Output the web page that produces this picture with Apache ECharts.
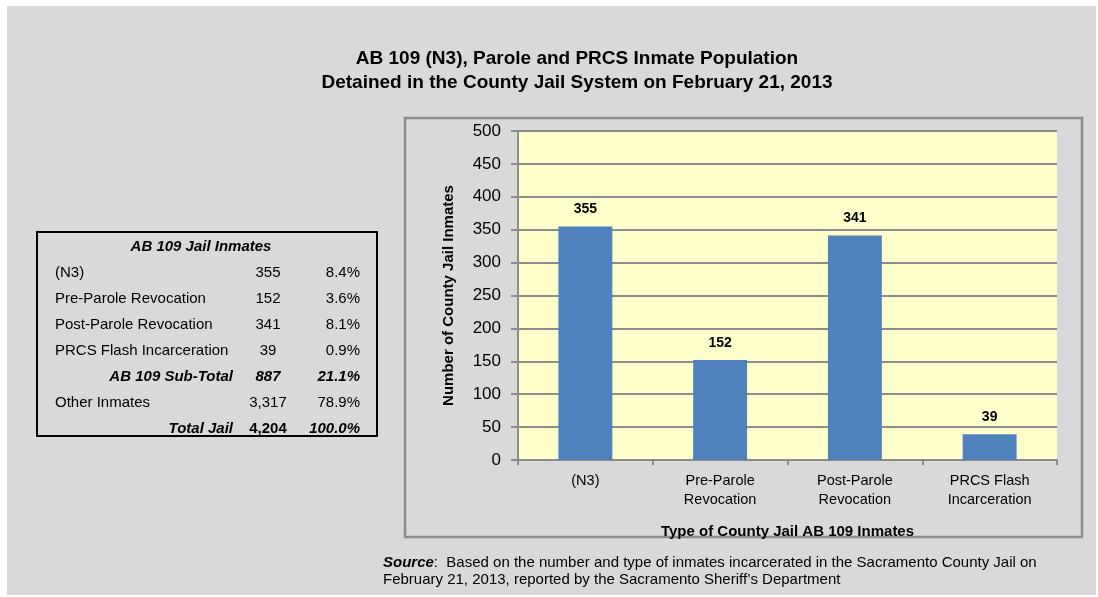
<!DOCTYPE html>
<html>
<head>
<meta charset="utf-8">
<script src="https://cdn.jsdelivr.net/npm/echarts@6/dist/echarts.min.js"></script>
<style>
  html, body { margin: 0; padding: 0; background: #ffffff; }
  #main { width: 1098px; height: 597px; }
</style>
</head>
<body>
<div id="main"></div>
<script>
// chart data
var categories = ['(N3)', 'Pre-Parole\nRevocation', 'Post-Parole\nRevocation', 'PRCS Flash\nIncarceration'];
var inmates = [355, 152, 341, 39];

// side table
var tableLabels = ['(N3)', 'Pre-Parole Revocation', 'Post-Parole Revocation', 'PRCS Flash Incarceration', 'AB 109 Sub-Total', 'Other Inmates', 'Total Jail'];
var tableCounts = ['355', '152', '341', '39', '887', '3,317', '4,204'];
var tablePercents = ['8.4%', '3.6%', '8.1%', '0.9%', '21.1%', '78.9%', '100.0%'];
var tableBold = [false, false, false, false, true, false, true];

var chart = echarts.init(document.getElementById('main'));

var font = 'Liberation Sans, Arial, sans-serif';
var graphics = [
  // grey page background
  { type: 'rect', z: -10, shape: { x: 7, y: 6, width: 1089, height: 589 }, style: { fill: '#d9d9d9' } },
  // chart frame
  { type: 'rect', z: -5, shape: { x: 405, y: 118, width: 677, height: 419 }, style: { fill: 'none', stroke: '#8c8c8c', lineWidth: 2.5 } },
  // table frame
  { type: 'rect', shape: { x: 37, y: 232, width: 340, height: 204 }, style: { fill: 'none', stroke: '#000', lineWidth: 2 } },
  { type: 'text', x: 201, y: 247, style: { text: 'AB 109 Jail Inmates', font: 'italic bold 15px ' + font, fill: '#000', align: 'center', verticalAlign: 'middle' } },
  // source note
  { type: 'text', x: 383, y: 563, style: { rich: { b: { font: 'italic bold 15px ' + font, fill: '#000' }, n: { font: '15px ' + font, fill: '#000' } }, text: '{b|Source}{n|:  Based on the number and type of inmates incarcerated in the Sacramento County Jail on}', verticalAlign: 'middle' } },
  { type: 'text', x: 383, y: 580, style: { text: 'February 21, 2013, reported by the Sacramento Sheriff\u2019s Department', font: '15px ' + font, fill: '#000', verticalAlign: 'middle' } }
];

tableLabels.forEach(function (lab, i) {
  var y = 273 + i * 26;
  var b = tableBold[i];
  var f = (b ? 'italic bold ' : '') + '15px ' + font;
  graphics.push({ type: 'text', x: b ? 233 : 55, y: y, style: { text: lab, font: f, fill: '#000', align: b ? 'right' : 'left', verticalAlign: 'middle' } });
  graphics.push({ type: 'text', x: 268, y: y, style: { text: tableCounts[i], font: (b ? 'bold ' : '') + (i === 4 ? 'italic ' : '') + '15px ' + font, fill: '#000', align: 'center', verticalAlign: 'middle' } });
  graphics.push({ type: 'text', x: 360, y: y, style: { text: tablePercents[i], font: f, fill: '#000', align: 'right', verticalAlign: 'middle' } });
});

var option = {
  backgroundColor: '#ffffff',
  animation: false,
  title: {
    text: 'AB 109 (N3), Parole and PRCS Inmate Population\nDetained in the County Jail System on February 21, 2013',
    left: 572,
    top: 42,
    textAlign: 'center',
    textStyle: { fontFamily: font, fontSize: 19, fontWeight: 'bold', color: '#000', lineHeight: 24 }
  },
  graphic: graphics,
  grid: { left: 518, right: 41, top: 131, bottom: 137, show: true, backgroundColor: '#ffffcc', borderWidth: 0 },
  xAxis: {
    type: 'category',
    data: categories,
    name: 'Type of County Jail AB 109 Inmates',
    nameLocation: 'middle',
    nameGap: 64,
    nameTextStyle: { fontFamily: font, fontSize: 15, fontWeight: 'bold', color: '#000' },
    axisLine: { lineStyle: { color: '#8c8c8c', width: 2 } },
    axisTick: { show: true, length: 5, lineStyle: { color: '#8c8c8c', width: 2 } },
    axisLabel: { fontFamily: font, fontSize: 14.5, color: '#000', lineHeight: 19, margin: 11 }
  },
  yAxis: {
    type: 'value',
    min: 0,
    max: 500,
    interval: 50,
    name: 'Number of County Jail Inmates',
    nameLocation: 'middle',
    nameGap: 62,
    nameTextStyle: { fontFamily: font, fontSize: 15, fontWeight: 'bold', color: '#000' },
    axisLine: { show: true, lineStyle: { color: '#8c8c8c', width: 2 } },
    axisTick: { show: true, length: 7, lineStyle: { color: '#8c8c8c', width: 2 } },
    axisLabel: { fontFamily: font, fontSize: 17, color: '#000', margin: 17 },
    splitLine: { lineStyle: { color: '#8c8c8c', width: 2 } }
  },
  series: [{
    type: 'bar',
    data: inmates,
    barWidth: '40%',
    itemStyle: { color: '#4f81bd' },
    label: { show: true, position: 'top', distance: 10, fontFamily: font, fontSize: 14, fontWeight: 'bold', color: '#000' }
  }]
};

chart.setOption(option);
</script>
</body>
</html>
